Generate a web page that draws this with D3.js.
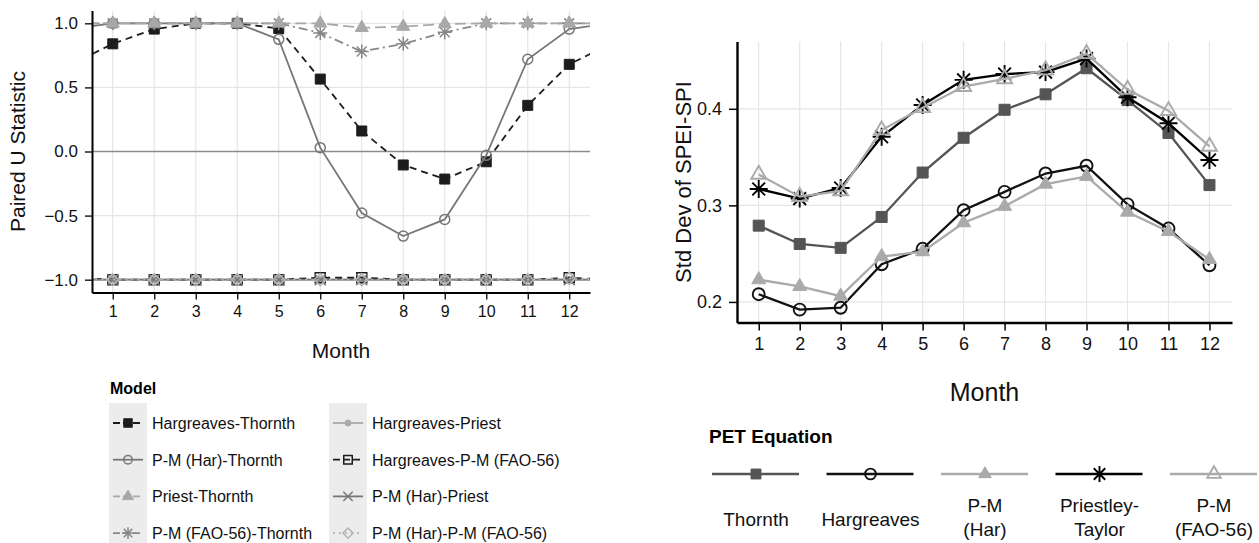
<!DOCTYPE html>
<html>
<head>
<meta charset="utf-8">
<script src="https://cdn.jsdelivr.net/npm/d3@7"></script>
<style>
body { margin: 0; background: #fff; }
svg { font-family: "Liberation Sans", Arial, sans-serif; }
</style>
</head>
<body>
<script>
var months = [1, 2, 3, 4, 5, 6, 7, 8, 9, 10, 11, 12];

// left panel: paired U statistic
var uTicks = [-1.0, -0.5, 0.0, 0.5, 1.0];
var hargThornth  = [0.84, 0.955, 1.0, 1.0, 0.96, 0.565, 0.16, -0.105, -0.215, -0.08, 0.36, 0.68];
var pmHarThornth = [1.0, 1.0, 1.0, 1.0, 0.875, 0.03, -0.48, -0.66, -0.53, -0.03, 0.72, 0.955];
var priestThornth = [1.0, 1.0, 1.0, 1.0, 1.0, 1.0, 0.965, 0.975, 0.995, 1.0, 1.0, 1.0];
var pmFaoThornth = [1.0, 1.0, 1.0, 1.0, 1.0, 0.925, 0.78, 0.84, 0.93, 1.0, 1.0, 1.0];
var hargPriest   = [-1.0, -1.0, -1.0, -1.0, -1.0, -1.0, -1.0, -1.0, -1.0, -1.0, -1.0, -1.0];
var hargPmFao    = [-1.0, -1.0, -1.0, -1.0, -1.0, -0.985, -0.985, -1.0, -1.0, -1.0, -1.0, -0.985];
var pmHarPriest  = [-1.0, -1.0, -1.0, -1.0, -1.0, -1.0, -1.0, -1.0, -1.0, -1.0, -1.0, -1.0];
var pmHarPmFao   = [-1.0, -1.0, -1.0, -1.0, -1.0, -1.0, -1.0, -1.0, -1.0, -1.0, -1.0, -0.99];

// right panel: std dev of SPEI-SPI
var sdTicks = [0.2, 0.3, 0.4];
var thornth    = [0.279, 0.260, 0.256, 0.288, 0.334, 0.370, 0.399, 0.415, 0.442, 0.409, 0.375, 0.321];
var hargreaves = [0.208, 0.192, 0.194, 0.239, 0.255, 0.295, 0.314, 0.333, 0.341, 0.301, 0.276, 0.238];
var pmHar      = [0.223, 0.216, 0.206, 0.247, 0.252, 0.282, 0.299, 0.322, 0.330, 0.293, 0.273, 0.244];
var priestley  = [0.317, 0.307, 0.318, 0.371, 0.404, 0.430, 0.436, 0.438, 0.452, 0.412, 0.385, 0.347];
var pmFao      = [0.332, 0.309, 0.315, 0.378, 0.401, 0.423, 0.431, 0.440, 0.457, 0.420, 0.398, 0.361];

var models = [
  {name: "Hargreaves-Thornth", values: hargThornth, color: "#1c1c1c", dash: "7,5", marker: "square", size: 10, fill: true},
  {name: "P-M (Har)-Thornth", values: pmHarThornth, color: "#777", dash: null, marker: "circle", size: 10, fill: false},
  {name: "Priest-Thornth", values: priestThornth, color: "#a8a8a8", dash: "11,5", marker: "triangle", size: 13, fill: true},
  {name: "P-M (FAO-56)-Thornth", values: pmFaoThornth, color: "#888", dash: "9,4,2,4", marker: "star", size: 14, fill: false},
  {name: "Hargreaves-Priest", values: hargPriest, color: "#aaa", dash: null, marker: "circle", size: 7, fill: true},
  {name: "Hargreaves-P-M (FAO-56)", values: hargPmFao, color: "#1c1c1c", dash: "7,5", marker: "square", size: 10, fill: false},
  {name: "P-M (Har)-Priest", values: pmHarPriest, color: "#777", dash: null, marker: "x", size: 11, fill: false},
  {name: "P-M (Har)-P-M (FAO-56)", values: pmHarPmFao, color: "#b5b5b5", dash: "2,4", marker: "diamond", size: 12, fill: false}
];
// order the lines are stacked in (stars sit under triangles)
var drawOrder = [4, 5, 6, 7, 0, 1, 3, 2];

var equations = [
  {name: ["Thornth"], values: thornth, color: "#555", marker: "square", size: 11, fill: true},
  {name: ["Hargreaves"], values: hargreaves, color: "#111", marker: "circle", size: 12, fill: false},
  {name: ["P-M", "(Har)"], values: pmHar, color: "#aaa", marker: "triangle", size: 14, fill: true},
  {name: ["Priestley-", "Taylor"], values: priestley, color: "#000", marker: "star", size: 18, fill: false},
  {name: ["P-M", "(FAO-56)"], values: pmFao, color: "#aaa", marker: "triangle", size: 15, fill: false}
];

function markerPath(type, s) {
  var h = s / 2;
  if (type == "square") return "M" + (-h) + "," + (-h) + "h" + s + "v" + s + "h" + (-s) + "Z";
  if (type == "circle") return d3.symbol(d3.symbolCircle, Math.PI * h * h)();
  if (type == "triangle") {
    var t = s * 0.866;
    return "M0," + (-2 * t / 3) + "L" + h + "," + (t / 3) + "L" + (-h) + "," + (t / 3) + "Z";
  }
  if (type == "diamond") return "M0," + (-h) + "L" + h + ",0L0," + h + "L" + (-h) + ",0Z";
  if (type == "x") return "M" + (-h) + "," + (-h) + "L" + h + "," + h + "M" + (-h) + "," + h + "L" + h + "," + (-h);
  // 8-armed asterisk
  var p = "";
  for (var k = 0; k < 4; k++) {
    var a = k * Math.PI / 4;
    p += "M" + (-h * Math.cos(a)) + "," + (-h * Math.sin(a)) + "L" + (h * Math.cos(a)) + "," + (h * Math.sin(a));
  }
  return p;
}

function addMarker(g, d, x, y, size, sw) {
  var open = d.marker == "x" || d.marker == "star";
  g.append("path")
    .attr("transform", "translate(" + x + "," + y + ")")
    .attr("d", markerPath(d.marker, size || d.size))
    .attr("fill", open ? "none" : (d.fill ? d.color : "#fff"))
    .attr("fill-opacity", open || d.fill ? 1 : 0.01)
    .attr("stroke", d.color)
    .attr("stroke-width", d.fill ? 1 : (sw || 1.5));
}

var svg = d3.select("body").append("svg")
  .attr("width", 1259)
  .attr("height", 543);

var defs = svg.append("defs");

// ---------- left panel ----------
var xL = d3.scaleLinear().domain([0.5, 12.5]).range([92, 590]);
var yL = d3.scaleLinear().domain([-1.1, 1.1]).range([292.5, 10.5]);

defs.append("clipPath").attr("id", "clipL")
  .append("rect").attr("x", 92).attr("y", 10).attr("width", 498).attr("height", 283);

var left = svg.append("g");

left.append("g").selectAll("line")
  .data(months).enter().append("line")
  .attr("x1", d => xL(d)).attr("x2", d => xL(d))
  .attr("y1", yL(1.1)).attr("y2", yL(-1.1))
  .attr("stroke", "#e6e6e6").attr("stroke-width", 1.2);

left.append("g").selectAll("line")
  .data(uTicks.filter(d => d != 0)).enter().append("line")
  .attr("x1", xL(0.5)).attr("x2", xL(12.5))
  .attr("y1", d => yL(d)).attr("y2", d => yL(d))
  .attr("stroke", "#e6e6e6").attr("stroke-width", 1.2);

left.append("line")
  .attr("x1", xL(0.5)).attr("x2", xL(12.5))
  .attr("y1", yL(0)).attr("y2", yL(0))
  .attr("stroke", "#8c8c8c").attr("stroke-width", 1.6);

var lineL = d3.line().x(d => xL(d.m)).y(d => yL(d.v));

drawOrder.forEach(function(i) {
  var s = models[i];
  // series wrap round the year, so month 0 is December and month 13 is January
  var pts = [{m: 0, v: s.values[11]}].concat(
    months.map((m, j) => ({m: m, v: s.values[j]})),
    [{m: 13, v: s.values[0]}]);
  var g = left.append("g").attr("clip-path", "url(#clipL)");
  g.append("path")
    .attr("d", lineL(pts))
    .attr("fill", "none")
    .attr("stroke", s.color)
    .attr("stroke-width", 1.8)
    .attr("stroke-dasharray", s.dash);
  months.forEach(function(m, j) {
    addMarker(g, s, xL(m), yL(s.values[j]));
  });
});

left.append("g")
  .attr("transform", "translate(0," + yL(-1.1) + ")")
  .call(d3.axisBottom(xL).tickValues(months).tickFormat(d3.format("d")).tickSize(7).tickSizeOuter(0).tickPadding(6))
  .call(g => g.select(".domain").attr("stroke-width", 2))
  .call(g => g.selectAll(".tick line").attr("stroke-width", 1.3))
  .call(g => g.selectAll(".tick text").attr("font-size", 16).attr("fill", "#111"));

left.append("g")
  .attr("transform", "translate(" + xL(0.5) + ",0)")
  .call(d3.axisLeft(yL).tickValues(uTicks).tickFormat(d3.format(".1f")).tickSize(7).tickSizeOuter(0).tickPadding(7))
  .call(g => g.select(".domain").attr("stroke-width", 2))
  .call(g => g.selectAll(".tick line").attr("stroke-width", 1.3))
  .call(g => g.selectAll(".tick text").attr("font-size", 17).attr("fill", "#111"));

left.append("text")
  .attr("transform", "translate(25," + yL(0) + ") rotate(-90)")
  .attr("text-anchor", "middle")
  .attr("font-size", 21)
  .attr("fill", "#111")
  .text("Paired U Statistic");

left.append("text")
  .attr("x", (xL(0.5) + xL(12.5)) / 2).attr("y", 358)
  .attr("text-anchor", "middle")
  .attr("font-size", 21)
  .attr("fill", "#111")
  .text("Month");

// left legend
left.append("text")
  .attr("x", 110).attr("y", 394)
  .attr("font-size", 16).attr("font-weight", "bold")
  .text("Model");

var legCols = [109, 329];
legCols.forEach(function(cx) {
  left.append("rect")
    .attr("x", cx).attr("y", 403).attr("width", 38).attr("height", 140)
    .attr("fill", "#ececec");
});

models.forEach(function(s, i) {
  var col = Math.floor(i / 4), row = i % 4;
  var kx = legCols[col], ky = 423 + row * 36.7;
  var g = left.append("g");
  g.append("line")
    .attr("x1", kx + 4).attr("x2", kx + 34)
    .attr("y1", ky).attr("y2", ky)
    .attr("stroke", s.color).attr("stroke-width", 1.8)
    .attr("stroke-dasharray", s.dash ? (s.dash == "2,4" ? "2,4" : "7,3") : null);
  addMarker(g, s, kx + 19, ky, s.size * 0.85);
  g.append("text")
    .attr("x", kx + 43).attr("y", ky + 6)
    .attr("font-size", 16).attr("fill", "#111")
    .text(s.name);
});

// ---------- right panel ----------
var xR = d3.scaleLinear().domain([0.47, 12.55]).range([737, 1232]);
var yR = d3.scaleLinear().domain([0.1787, 0.4697]).range([322.5, 41.5]);

var right = svg.append("g");

right.append("g").selectAll("line")
  .data(months).enter().append("line")
  .attr("x1", d => xR(d)).attr("x2", d => xR(d))
  .attr("y1", yR.range()[0]).attr("y2", yR.range()[1])
  .attr("stroke", "#e6e6e6").attr("stroke-width", 1.2);

right.append("g").selectAll("line")
  .data(sdTicks).enter().append("line")
  .attr("x1", xR.range()[0]).attr("x2", xR.range()[1])
  .attr("y1", d => yR(d)).attr("y2", d => yR(d))
  .attr("stroke", "#e6e6e6").attr("stroke-width", 1.2);

var lineR = d3.line().x((d, j) => xR(months[j])).y(d => yR(d));

equations.forEach(function(s) {
  var g = right.append("g");
  g.append("path")
    .attr("d", lineR(s.values))
    .attr("fill", "none")
    .attr("stroke", s.color)
    .attr("stroke-width", 2.3);
  months.forEach(function(m, j) {
    addMarker(g, s, xR(m), yR(s.values[j]), null, 1.9);
  });
});

right.append("g")
  .attr("transform", "translate(0," + yR.range()[0] + ")")
  .call(d3.axisBottom(xR).tickValues(months).tickFormat(d3.format("d")).tickSize(8).tickSizeOuter(0).tickPadding(7))
  .call(g => g.select(".domain").attr("stroke-width", 2.4))
  .call(g => g.selectAll(".tick line").attr("stroke-width", 1.5))
  .call(g => g.selectAll(".tick text").attr("font-size", 18).attr("fill", "#111"));

right.append("g")
  .attr("transform", "translate(" + xR.range()[0] + ",0)")
  .call(d3.axisLeft(yR).tickValues(sdTicks).tickFormat(d3.format(".1f")).tickSize(8).tickSizeOuter(0).tickPadding(7))
  .call(g => g.select(".domain").attr("stroke-width", 2.4))
  .call(g => g.selectAll(".tick line").attr("stroke-width", 1.5))
  .call(g => g.selectAll(".tick text").attr("font-size", 18).attr("fill", "#111"));

right.append("text")
  .attr("transform", "translate(691," + (yR.range()[0] + yR.range()[1]) / 2 + ") rotate(-90)")
  .attr("text-anchor", "middle")
  .attr("font-size", 22)
  .attr("fill", "#111")
  .text("Std Dev of SPEI-SPI");

right.append("text")
  .attr("x", (xR.range()[0] + xR.range()[1]) / 2).attr("y", 401)
  .attr("text-anchor", "middle")
  .attr("font-size", 25)
  .attr("fill", "#111")
  .text("Month");

right.append("text")
  .attr("x", 709).attr("y", 443)
  .attr("font-size", 19).attr("font-weight", "bold")
  .text("PET Equation");

equations.forEach(function(s, i) {
  var x0 = 712 + i * 114.5, cx = x0 + 44;
  var g = right.append("g");
  g.append("line")
    .attr("x1", x0).attr("x2", x0 + 87)
    .attr("y1", 474).attr("y2", 474)
    .attr("stroke", s.color).attr("stroke-width", 2.6);
  addMarker(g, s, cx, 474, s.size * 0.9, 1.9);
  var t = g.append("text")
    .attr("text-anchor", "middle")
    .attr("font-size", 19).attr("fill", "#111");
  if (s.name.length == 1) {
    t.append("tspan").attr("x", cx).attr("y", 526).text(s.name[0]);
  } else {
    t.append("tspan").attr("x", cx).attr("y", 512).text(s.name[0]);
    t.append("tspan").attr("x", cx).attr("y", 536).text(s.name[1]);
  }
});
</script>
</body>
</html>
